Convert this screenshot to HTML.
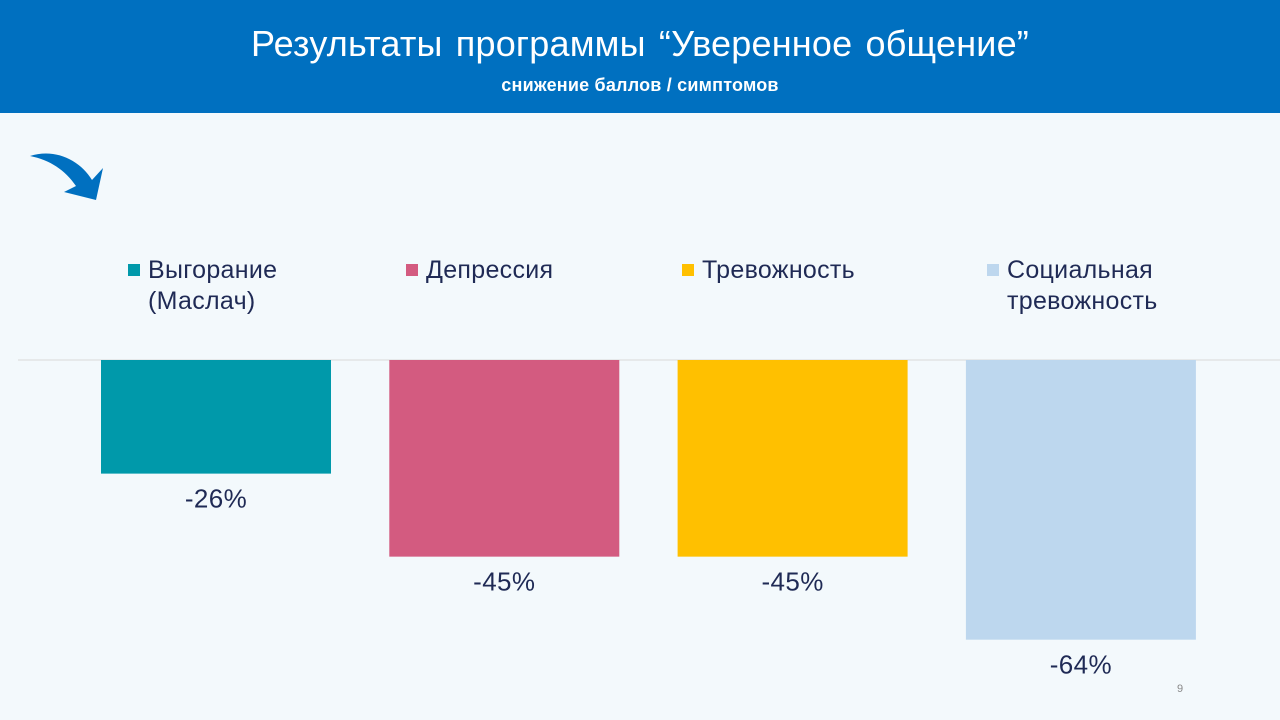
<!DOCTYPE html>
<html><head><meta charset="utf-8"><style>
body{margin:0;width:1280px;height:720px;overflow:hidden;background:#f3f9fc;font-family:"Liberation Sans","DejaVu Sans",sans-serif;position:relative}
#hdr{position:absolute;left:0;top:0;width:1280px;height:113px;background:#0070c0;color:#fff;text-align:center}
#t1{position:absolute;top:23px;width:100%;font-size:36px;letter-spacing:0.2px;word-spacing:3px}
#t2{position:absolute;top:75px;width:100%;font-size:18px;font-weight:bold;letter-spacing:0.2px}
.leg{position:absolute;font-size:25px;color:#1f2a55;line-height:31px;letter-spacing:0.3px}
.sw{position:absolute;width:12px;height:12px;left:-20px;top:9px}
</style></head><body>
<div id="hdr">
<div id="t1">Результаты программы “Уверенное общение”</div>
<div id="t2">снижение баллов / симптомов</div>
</div>
<svg width="1280" height="720" style="position:absolute;left:0;top:0" id="chart">
<path d="M30,156 C55,148 80,160 92,180 L103,168 L96,200 L64,192 L76,186 C65,170 50,160 30,156Z" fill="#0070c0"/>
<line x1="18" y1="360" x2="1280" y2="360" stroke="#d9d9d9" stroke-width="1"/>
<g id="bars"></g>
<text x="1180" y="692" font-size="11" fill="#888" text-anchor="middle">9</text>
</svg>
<div class="leg" style="left:148px;top:255px"><span class="sw" style="background:#0099aa"></span>Выгорание<br>(Маслач)</div>
<div class="leg" style="left:426px;top:255px"><span class="sw" style="background:#d35b80"></span>Депрессия</div>
<div class="leg" style="left:702px;top:255px"><span class="sw" style="background:#ffc000"></span>Тревожность</div>
<div class="leg" style="left:1007px;top:255px"><span class="sw" style="background:#bdd7ee"></span>Социальная<br>тревожность</div>
<script>
const categories=["Выгорание (Маслач)","Депрессия","Тревожность","Социальная тревожность"];
const values=[-26,-45,-45,-64];
const labels=["-26%","-45%","-45%","-64%"];
const colors=["#0099aa","#d35b80","#ffc000","#bdd7ee"];
const zeroY=360, pxPer=4.37;
function y(v){return zeroY - v*pxPer;}
function x(i){return 101 + i*288.3;}
const g=document.getElementById('bars');
const NS="http://www.w3.org/2000/svg";
values.forEach((v,i)=>{
 const r=document.createElementNS(NS,'rect');
 
 
 r.setAttribute('x',x(i));r.setAttribute('y',Math.min(zeroY,y(v)));
 r.setAttribute('width',230);r.setAttribute('height',Math.abs(y(v)-zeroY));
 r.setAttribute('fill',colors[i]);g.appendChild(r);
 const t=document.createElementNS(NS,'text');
 
 
 t.setAttribute('x',x(i)+115);t.setAttribute('y',y(v)+34);
 t.setAttribute('text-anchor','middle');t.setAttribute('font-size','26');
 t.setAttribute('letter-spacing','0.4');
 t.setAttribute('fill','#1f2a55');t.textContent=labels[i];g.appendChild(t);
});
</script>
</body></html>
